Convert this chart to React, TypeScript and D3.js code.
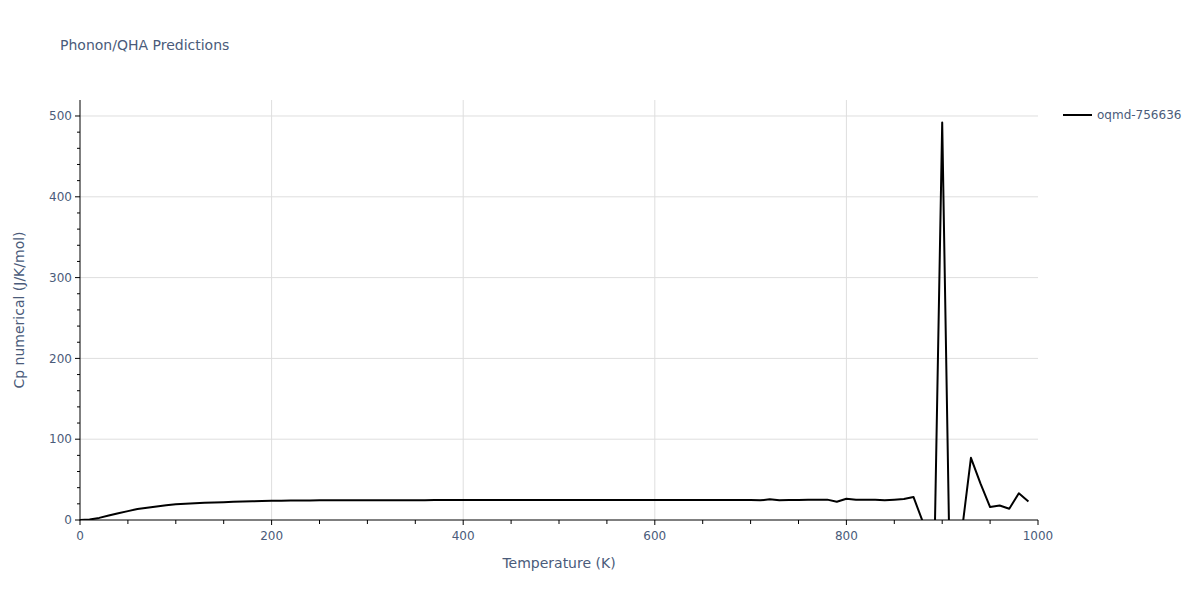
import React from "react";
import * as d3 from "d3";

const temperatures: number[] = [
  0, 10, 20, 30, 40, 50, 60, 70, 80, 90,
  100, 110, 120, 130, 140, 150, 160, 170, 180, 190,
  200, 210, 220, 230, 240, 250, 260, 270, 280, 290,
  300, 310, 320, 330, 340, 350, 360, 370, 380, 390,
  400, 410, 420, 430, 440, 450, 460, 470, 480, 490,
  500, 510, 520, 530, 540, 550, 560, 570, 580, 590,
  600, 610, 620, 630, 640, 650, 660, 670, 680, 690,
  700, 710, 720, 730, 740, 750, 760, 770, 780, 790,
  800, 810, 820, 830, 840, 850, 860, 870, 880, 890,
  900, 910, 920, 930, 940, 950, 960, 970, 980, 990,
];

const cpValues: number[] = [
  0, 0.5, 2.6, 5.5, 8.3, 11.0, 13.6, 15.3, 16.8, 18.2,
  19.4, 20.1, 20.7, 21.2, 21.7, 22.1, 22.5, 22.8, 23.1, 23.4,
  23.7, 23.9, 24.1, 24.2, 24.2, 24.3, 24.3, 24.3, 24.4, 24.4,
  24.4, 24.4, 24.5, 24.5, 24.5, 24.5, 24.5, 24.6, 24.6, 24.6,
  24.6, 24.6, 24.6, 24.6, 24.6, 24.6, 24.6, 24.6, 24.6, 24.6,
  24.6, 24.6, 24.6, 24.6, 24.6, 24.6, 24.6, 24.6, 24.6, 24.6,
  24.6, 24.6, 24.6, 24.6, 24.6, 24.6, 24.6, 24.6, 24.6, 24.6,
  24.6, 24.3, 25.6, 24.4, 24.6, 24.8, 25.0, 25.2, 25.2, 22.6,
  26.3, 25.0, 25.0, 25.2, 24.5, 25.2, 26.0, 28.5, -3, -164,
  492, -211, -19, 77, 45, 16, 18, 14, 33, 23,
];

const xTicks: number[] = [0, 200, 400, 600, 800, 1000];
const yTicks: number[] = [0, 100, 200, 300, 400, 500];
const seriesName = "oqmd-756636";
const chartTitle = "Phonon/QHA Predictions";
const xTitle = "Temperature (K)";
const yTitle = "Cp numerical (J/K/mol)";

const W = 1200;
const H = 600;
const left = 80;
const right = 1038;
const top = 100;
const bottom = 520;
const textColor = "#4a5b7a";
const gridColor = "#dedede";
const font = "'DejaVu Sans', Verdana, sans-serif";

export default function App() {
  const x = d3.scaleLinear().domain([0, 1000]).range([left, right]);
  const y = d3.scaleLinear().domain([0, 519.8]).range([bottom, top]);
  const data = temperatures.map((t, i) => [t, cpValues[i]] as [number, number]);
  const line = d3
    .line<[number, number]>()
    .x((d) => x(d[0]))
    .y((d) => y(d[1]));

  const xMinor = d3.range(0, 1001, 50).filter((v) => v % 200 !== 0);
  const yMinor = d3.range(0, 520, 20).filter((v) => v % 100 !== 0);

  return (
    <div style={{ position: "absolute", left: 0, top: 0 }}>
      <svg width={W} height={H} style={{ display: "block", background: "#fff", fontFamily: font }}>
        <defs>
          <clipPath id="plotclip">
            <rect x={left} y={top} width={right - left} height={bottom - top} />
          </clipPath>
        </defs>
        {/* grid */}
        {xTicks
          .filter((v) => v > 0 && v < 1000)
          .map((v) => (
            <line key={"gx" + v} x1={x(v)} x2={x(v)} y1={top} y2={bottom} stroke={gridColor} strokeWidth={1} />
          ))}
        {yTicks
          .filter((v) => v > 0)
          .map((v) => (
            <line key={"gy" + v} x1={left} x2={right} y1={y(v)} y2={y(v)} stroke={gridColor} strokeWidth={1} />
          ))}
        {/* data line */}
        <g clipPath="url(#plotclip)">
          <path d={line(data) || ""} fill="none" stroke="#000" strokeWidth={2} strokeLinejoin="round" />
        </g>
        {/* axes */}
        <line x1={left} x2={left} y1={top} y2={bottom + 0.5} stroke="#000" strokeWidth={1} />
        <line x1={left - 0.5} x2={right} y1={bottom} y2={bottom} stroke="#000" strokeWidth={1} />
        {/* x ticks */}
        {xTicks.map((v) => (
          <g key={"xt" + v}>
            <line x1={x(v)} x2={x(v)} y1={bottom} y2={bottom + 5} stroke="#000" strokeWidth={1} />
            <text x={x(v)} y={bottom + 20} textAnchor="middle" fontSize={12} fill={textColor}>
              {v}
            </text>
          </g>
        ))}
        {xMinor.map((v) => (
          <line key={"xm" + v} x1={x(v)} x2={x(v)} y1={bottom} y2={bottom + 4} stroke="#000" strokeWidth={1} />
        ))}
        {/* y ticks */}
        {yTicks.map((v) => (
          <g key={"yt" + v}>
            <line x1={left - 5} x2={left} y1={y(v)} y2={y(v)} stroke="#000" strokeWidth={1} />
            <text x={left - 8} y={y(v)} dy="0.35em" textAnchor="end" fontSize={12} fill={textColor}>
              {v}
            </text>
          </g>
        ))}
        {yMinor.map((v) => (
          <line key={"ym" + v} x1={left - 3} x2={left} y1={y(v)} y2={y(v)} stroke="#000" strokeWidth={1} />
        ))}
        {/* titles */}
        <text x={60} y={50} fontSize={14} fill={textColor}>
          {chartTitle}
        </text>
        <text x={(left + right) / 2} y={568} textAnchor="middle" fontSize={14} fill={textColor}>
          {xTitle}
        </text>
        <text
          transform={`translate(24, ${(top + bottom) / 2}) rotate(-90)`}
          textAnchor="middle"
          fontSize={14}
          fill={textColor}
        >
          {yTitle}
        </text>
        {/* legend */}
        <line x1={1063} x2={1092} y1={115} y2={115} stroke="#000" strokeWidth={2} />
        <text x={1097} y={115} dy="0.35em" fontSize={12} fill={textColor}>
          {seriesName}
        </text>
      </svg>
    </div>
  );
}
